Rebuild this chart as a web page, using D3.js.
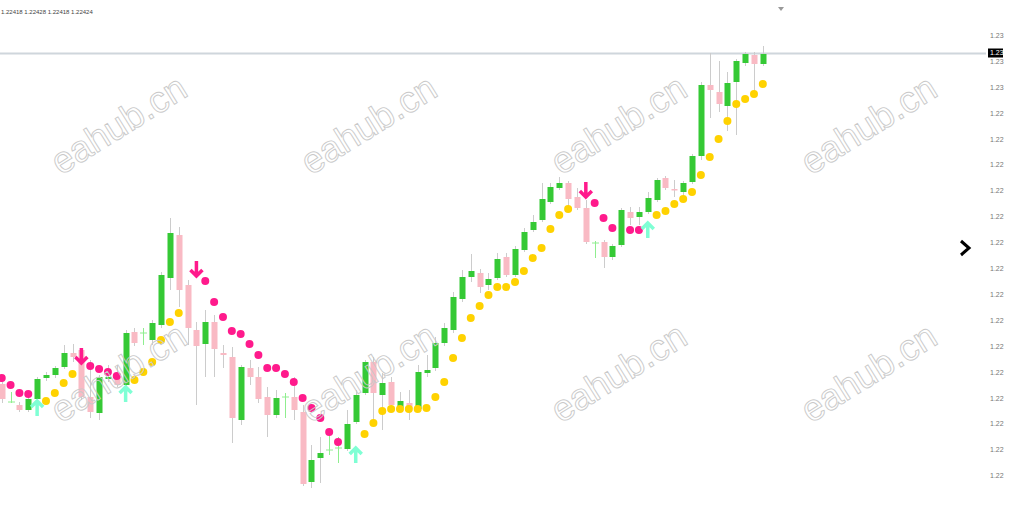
<!DOCTYPE html>
<html>
<head>
<meta charset="utf-8">
<script src="https://cdn.jsdelivr.net/npm/d3@7"></script>
<style>
  html, body { margin: 0; padding: 0; background: #fff; }
  svg { display: block; font-family: "Liberation Sans", Arial, sans-serif; }
</style>
</head>
<body>
<div id="chart"></div>
<script>
var width = 1011;
var height = 508;

// OHLC, price in 1.2xxxx
var opens = [1.22206,1.22188,1.22185,1.22180,1.22191,1.22212,1.22215,1.22223,1.22237,1.22240,
  1.22193,1.22177,1.22211,1.22217,1.22205,1.22258,1.22257,1.22250,1.22265,1.22312,
  1.22355,1.22305,1.22260,1.22246,1.22268,1.22237,1.22233,1.22170,1.22222,1.22213,
  1.22193,1.22175,1.22193,1.22193,1.22178,1.22108,1.22132,1.22140,1.22142,1.22141,
  1.22168,1.22197,1.22228,1.22195,1.22208,1.22182,1.22187,1.22181,1.22217,1.22222,
  1.22247,1.22260,1.22291,1.22313,1.22317,1.22305,1.22312,1.22333,1.22315,1.22340,
  1.22360,1.22370,1.22388,1.22402,1.22407,1.22393,1.22382,1.22347,1.22348,1.22333,
  1.22345,1.22378,1.22373,1.22378,1.22390,1.22412,1.22401,1.22398,1.22408,1.22434,
  1.22505,1.22498,1.22484,1.22508,1.22527,1.22535,1.22526];
var highs = [1.22209,1.22198,1.22188,1.22193,1.22213,1.22218,1.22224,1.22245,1.22246,1.22242,
  1.22230,1.22215,1.22225,1.22225,1.22260,1.22262,1.22262,1.22270,1.22318,1.22372,
  1.22363,1.22310,1.22268,1.22280,1.22275,1.22245,1.22243,1.22225,1.22230,1.22223,
  1.22203,1.22200,1.22197,1.22213,1.22185,1.22145,1.22153,1.22155,1.22153,1.22180,
  1.22200,1.22230,1.22233,1.22217,1.22213,1.22198,1.22200,1.22225,1.22235,1.22253,
  1.22267,1.22298,1.22320,1.22336,1.22321,1.22317,1.22337,1.22337,1.22344,1.22362,
  1.22375,1.22407,1.22407,1.22413,1.22409,1.22402,1.22390,1.22349,1.22350,1.22346,
  1.22382,1.22383,1.22383,1.22398,1.22412,1.22414,1.22410,1.22409,1.22436,1.22508,
  1.22537,1.22529,1.22518,1.22531,1.22538,1.22538,1.22544];
var lows = [1.22187,1.22187,1.22178,1.22178,1.22189,1.22209,1.22212,1.22221,1.22228,1.22190,
  1.22172,1.22170,1.22208,1.22203,1.22203,1.22244,1.22245,1.22245,1.22262,1.22300,
  1.22283,1.22245,1.22185,1.22213,1.22213,1.22222,1.22147,1.22165,1.22205,1.22187,
  1.22153,1.22172,1.22172,1.22170,1.22104,1.22102,1.22107,1.22135,1.22127,1.22139,
  1.22166,1.22195,1.22170,1.22160,1.22178,1.22178,1.22170,1.22179,1.22213,1.22219,
  1.22244,1.22257,1.22288,1.22308,1.22297,1.22300,1.22310,1.22313,1.22313,1.22338,
  1.22358,1.22368,1.22386,1.22400,1.22383,1.22380,1.22346,1.22332,1.22322,1.22330,
  1.22343,1.22365,1.22365,1.22376,1.22388,1.22400,1.22393,1.22395,1.22406,1.22430,
  1.22472,1.22478,1.22459,1.22455,1.22524,1.22497,1.22524];
var closes = [1.22191,1.22188,1.22180,1.22191,1.22211,1.22215,1.22222,1.22237,1.22233,1.22193,
  1.22178,1.22213,1.22213,1.22205,1.22257,1.22247,1.22257,1.22267,1.22315,1.22357,
  1.22300,1.22262,1.22244,1.22268,1.22241,1.22235,1.22172,1.22223,1.22213,1.22191,
  1.22175,1.22192,1.22193,1.22180,1.22106,1.22130,1.22137,1.22140,1.22142,1.22166,
  1.22195,1.22228,1.22197,1.22207,1.22185,1.22189,1.22181,1.22218,1.22220,1.22247,
  1.22262,1.22293,1.22313,1.22319,1.22303,1.22311,1.22331,1.22315,1.22341,1.22358,
  1.22368,1.22391,1.22403,1.22407,1.22391,1.22382,1.22348,1.22347,1.22333,1.22344,
  1.22380,1.22372,1.22378,1.22392,1.22410,1.22402,1.22400,1.22407,1.22434,1.22505,
  1.22500,1.22486,1.22507,1.22529,1.22536,1.22526,1.22536];

// parabolic SAR dots: rising (below price) and falling (above price)
var sarUp = [null,null,null,null,null,1.22189,1.22197,1.22207,1.22216,null,
  null,null,null,null,null,1.22210,1.22218,1.22228,1.22250,1.22268,
  1.22277,null,null,null,null,null,null,null,null,null,
  null,null,null,null,null,null,null,null,null,null,
  null,1.22156,1.22167,1.22179,1.22181,1.22181,1.22181,1.22181,1.22182,1.22193,
  1.22208,1.22232,1.22252,1.22272,1.22284,1.22295,1.22303,1.22303,1.22308,1.22319,
  1.22332,1.22342,1.22361,1.22375,1.22381,null,null,null,null,null,
  null,null,null,null,1.22375,1.22379,1.22386,1.22391,1.22398,1.22415,
  1.22433,1.22451,1.22469,1.22486,1.22491,1.22496,1.22506];
var sarDown = [1.22212,1.22205,1.22197,1.22196,null,null,null,null,null,null,
  1.22224,1.22221,1.22218,1.22214,null,null,null,null,null,null,
  null,null,null,1.22309,1.22288,1.22273,1.22259,1.22256,1.22246,1.22235,
  1.22222,1.22222,1.22216,1.22208,1.22192,1.22182,1.22172,1.22158,1.22148,null,
  null,null,null,null,null,null,null,null,null,null,
  null,null,null,null,null,null,null,null,null,null,
  null,null,null,null,null,null,null,1.22387,1.22372,1.22362,
  null,1.22360,1.22360,null,null,null,null,null,null,null,
  null,null,null,null,null,null,null];

// signal arrows: bar index and price
var buyBars = [4, 14, 40, 73];
var buyPrices = [1.22182, 1.22196, 1.22135, 1.22360];
var sellBars = [9, 22, 66];
var sellPrices = [1.22234, 1.22321, 1.22400];

var tickValues = [1.22555,1.22529,1.22503,1.22477,1.22451,1.22426,1.22400,1.22374,1.22348,
  1.22322,1.22296,1.22270,1.22244,1.22218,1.22192,1.22167,1.22141,1.22115];
var headerText = '1.22418 1.22428 1.22418 1.22424';
var priceLabel = '1.23';
var watermark = 'eahub.cn';

var bars = d3.range(opens.length);

var svg = d3.select('#chart').append('svg')
  .attr('width', width)
  .attr('height', height);

var x = d3.scaleBand().domain(bars).range([-2.7, -2.7 + 8.85 * bars.length]).padding(0);
var y = d3.scaleLinear().domain([1.22090, 1.22590]).range([500, 0]);
var cx = function (i) { return x(i) + x.bandwidth() / 2; };
var bodyW = 6;

// current price line
svg.append('line')
  .attr('x1', 0).attr('x2', 986)
  .attr('y1', y(closes[closes.length - 1]) - 0.5)
  .attr('y2', y(closes[closes.length - 1]) - 0.5)
  .attr('stroke', '#cfd6dc').attr('stroke-width', 2);

// wicks
svg.append('g').selectAll('line')
  .data(bars)
  .enter().append('line')
  .attr('x1', function (i) { return Math.round(cx(i)) + 0.5; })
  .attr('x2', function (i) { return Math.round(cx(i)) + 0.5; })
  .attr('y1', function (i) { return y(highs[i]); })
  .attr('y2', function (i) { return y(lows[i]); })
  .attr('stroke', function (i) { return opens[i] === closes[i] ? '#8fee8f' : '#cccccc'; })
  .attr('stroke-width', 1);

// bodies
svg.append('g').selectAll('rect')
  .data(bars.filter(function (i) { return opens[i] !== closes[i]; }))
  .enter().append('rect')
  .attr('x', function (i) { return Math.round(cx(i)) - bodyW / 2 + 0.5; })
  .attr('width', bodyW)
  .attr('y', function (i) { return y(Math.max(opens[i], closes[i])); })
  .attr('height', function (i) { return Math.max(1.5, Math.abs(y(opens[i]) - y(closes[i]))); })
  .attr('fill', function (i) { return closes[i] > opens[i] ? '#35c935' : '#f9bac4'; });

// doji crosses
svg.append('g').selectAll('line')
  .data(bars.filter(function (i) { return opens[i] === closes[i]; }))
  .enter().append('line')
  .attr('x1', function (i) { return Math.round(cx(i)) - 3; })
  .attr('x2', function (i) { return Math.round(cx(i)) + 4; })
  .attr('y1', function (i) { return y(opens[i]); })
  .attr('y2', function (i) { return y(opens[i]); })
  .attr('stroke', '#8fee8f').attr('stroke-width', 1);

// SAR dots
svg.append('g').selectAll('circle')
  .data(bars.filter(function (i) { return sarUp[i] !== null; }))
  .enter().append('circle')
  .attr('cx', cx).attr('cy', function (i) { return y(sarUp[i]); })
  .attr('r', 4).attr('fill', '#ffd200');
svg.append('g').selectAll('circle')
  .data(bars.filter(function (i) { return sarDown[i] !== null; }))
  .enter().append('circle')
  .attr('cx', cx).attr('cy', function (i) { return y(sarDown[i]); })
  .attr('r', 4).attr('fill', '#ff1a8c');

// arrows
var upArrow = 'M-6,-1 L0,-7 L6,-1 M0,-7 L0,8';
var downArrow = 'M-6,1 L0,7 L6,1 M0,7 L0,-8';
svg.append('g').selectAll('path')
  .data(buyBars)
  .enter().append('path')
  .attr('d', upArrow)
  .attr('transform', function (b, k) { return 'translate(' + cx(b) + ',' + y(buyPrices[k]) + ')'; })
  .attr('fill', 'none').attr('stroke', '#7fffd4').attr('stroke-width', 3.5);
svg.append('g').selectAll('path')
  .data(sellBars)
  .enter().append('path')
  .attr('d', downArrow)
  .attr('transform', function (b, k) { return 'translate(' + cx(b) + ',' + y(sellPrices[k]) + ')'; })
  .attr('fill', 'none').attr('stroke', '#ff1a8c').attr('stroke-width', 3.5);

// watermarks
var wmX = [120, 370, 620, 870];
var wmY = [127, 375];
wmY.forEach(function (wy) {
  wmX.forEach(function (wx) {
    svg.append('text')
      .attr('transform', 'translate(' + wx + ',' + wy + ') rotate(-32)')
      .attr('text-anchor', 'middle')
      .attr('dominant-baseline', 'middle')
      .attr('font-size', 37)
      .attr('fill', 'none')
      .attr('stroke', '#c9c9c9')
      .attr('stroke-width', 0.9)
      .text(watermark);
  });
});

// price axis
var axis = d3.axisRight(y).tickValues(tickValues).tickFormat(d3.format('.2f')).tickSize(0).tickPadding(0);
var ag = svg.append('g')
  .attr('transform', 'translate(990,0)')
  .call(axis);
ag.select('.domain').remove();
ag.selectAll('text').attr('font-size', 7).attr('fill', '#777').attr('font-family', '"Liberation Sans", Arial, sans-serif');

// current price box
var py = y(closes[closes.length - 1]) - 1;
svg.append('rect').attr('x', 988).attr('y', py - 4.5).attr('width', 15).attr('height', 9).attr('fill', '#000');
svg.append('text').attr('x', 990).attr('y', py).attr('dominant-baseline', 'middle')
  .attr('font-size', 7).attr('fill', '#fff').text(priceLabel);

// header
svg.append('text').attr('x', 1).attr('y', 14).attr('font-size', 6).attr('fill', '#444').text(headerText);

// small menu triangle
svg.append('path').attr('d', 'M778,7 L784,7 L781,11 Z').attr('fill', '#999');

// scroll chevron
svg.append('path').attr('d', 'M961,241 L969,248 L961,255')
  .attr('fill', 'none').attr('stroke', '#000').attr('stroke-width', 3);
</script>
</body>
</html>
